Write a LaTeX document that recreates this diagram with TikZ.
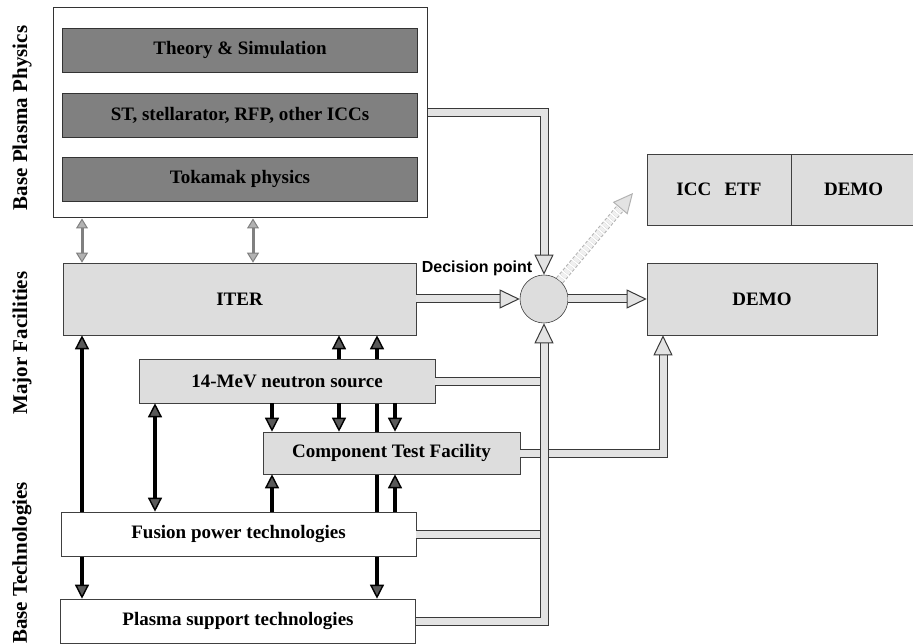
\documentclass[tikz,border=0pt]{standalone}
\usepackage{fontspec}
\setmainfont{Liberation Serif}
\newfontfamily\decfont{Liberation Sans}
\usetikzlibrary{arrows.meta,backgrounds}

\begin{document}
\begin{tikzpicture}[x=1pt,y=-1pt,
    font=\fontsize{19}{21}\selectfont\bfseries,
    pip/.tip={Triangle[length=20pt,width=19pt,fill=gray!22,line width=1pt]},
    blk/.tip={Triangle[length=14pt,width=14pt,fill=black!65,line width=1.4pt]},
    gry/.tip={Triangle[length=10pt,width=12pt,fill=gray!60,line width=1pt]},
    pipe/.style={draw=gray!45!black,line width=1pt,double=gray!22,double distance=7pt},
    bar/.style={draw=black,line width=3.5pt},
    link/.style={draw=black!50,line width=3pt}]

        \useasboundingbox (0,0) rectangle (913,644);

        % side labels
        \begin{scope}[every node/.style={rotate=90,font=\fontsize{21}{23}\selectfont\bfseries}]
          \node (lbpp) at (22,118) {Base Plasma Physics};
          \node (lmf)  at (22,343) {Major Facilities};
          \node (lbt)  at (22,563) {Base Technologies};
        \end{scope}

        \node[draw=gray!40!black,line width=1pt,fill=white,minimum width=374pt,minimum height=210pt] (bpp) at (240,113) {};

        \begin{scope}[every node/.style={draw=gray!40!black,line width=0.5pt,fill=gray,minimum width=355pt,minimum height=44pt}]
          \node (theory) at (240,50)  {Theory \& Simulation};
          \node (alt)    at (240,115) {ST, stellarator, RFP, other ICCs};
          \node (tok)    at (240,179) {Tokamak physics};
        \end{scope}

        \begin{scope}[every node/.style={draw=gray!50!black,line width=0.6pt,fill=gray!27,minimum height=44pt}]
          \node[minimum width=353pt,minimum height=72pt] (iter) at (239.5,299) {ITER};
          \node[minimum width=296pt] (nsrc) at (287,381) {14-MeV neutron source};
          \node[minimum width=257pt,minimum height=42pt] (ctf) at (391.5,453) {Component Test Facility};
          \node[minimum width=230pt,minimum height=72pt] (demo) at (762,299) {DEMO};
          \node[minimum width=144pt,minimum height=71pt] (etf) at (719,189.5) {ICC\hspace{0.7em}ETF};
          \node[minimum width=124pt,minimum height=71pt,anchor=west] (etfdemo) at (etf.east) {DEMO};
          \node[circle,minimum size=48pt,inner sep=0pt] (dec) at (544,299) {};
        \end{scope}

        \begin{scope}[every node/.style={draw=gray!50!black,line width=0.6pt,fill=white,minimum width=355pt,minimum height=44pt}]
          \node (fpt) at (238.5,534) {Fusion power technologies};
          \node (pst) at (238,621)  {Plasma support technologies};
        \end{scope}

        \node[font=\decfont\fontsize{16}{18}\selectfont\bfseries] (dlabel) at (477,268) {Decision point};

        \coordinate (c1) at (82,0);
        \coordinate (c2) at (155,0);
        \coordinate (c3) at (272,0);
        \coordinate (c4) at (339,0);
        \coordinate (c5) at (377,0);
        \coordinate (c6) at (395,0);
        \coordinate (c7) at (253,0);
        \coordinate (demoin) at (663,0);
        \coordinate (etfin) at (633,193);

        % gray pipes
        \draw[pipe] (nsrc.east) -- (nsrc.east -| dec.south);
        \draw[pipe] (fpt.east) -- (fpt.east -| dec.south);
        \draw[pipe,-pip] (ctf.east) -| (demo.south -| demoin);
        \draw[pipe,-pip] (pst.east) -| (dec.south);
        \draw[pipe,-pip] (bpp.east) -| (dec.north);
        \draw[pipe,-pip] (iter.east) -- (dec.west);
        \draw[pipe,-pip] (dec.east) -- (demo.west);
        \draw[pipe,-pip,draw=gray!60,double=gray!12,densely dashed] (dec.50) -- (etfin);

        \draw[link,gry-gry] (bpp.south -| c1) -- (iter.north -| c1);
        \draw[link,gry-gry] (bpp.south -| c7) -- (iter.north -| c7);

        \begin{scope}[on background layer]
          \draw[bar,blk-blk] (iter.south -| c1) -- (pst.north -| c1);
          \draw[bar,blk-blk] (iter.south -| c5) -- (pst.north -| c5);
        \end{scope}
        \draw[bar,blk-blk] (nsrc.south -| c2) -- (fpt.north -| c2);
        \draw[bar,-blk] (nsrc.south -| c3) -- (ctf.north -| c3);
        \draw[bar,-blk] (fpt.north -| c3) -- (ctf.south -| c3);
        \draw[bar,-blk] (nsrc.north -| c4) -- (iter.south -| c4);
        \draw[bar,-blk] (nsrc.south -| c4) -- (ctf.north -| c4);
        \draw[bar,-blk] (nsrc.south -| c6) -- (ctf.north -| c6);
        \draw[bar,-blk] (fpt.north -| c6) -- (ctf.south -| c6);

      \end{tikzpicture}
\end{document}
